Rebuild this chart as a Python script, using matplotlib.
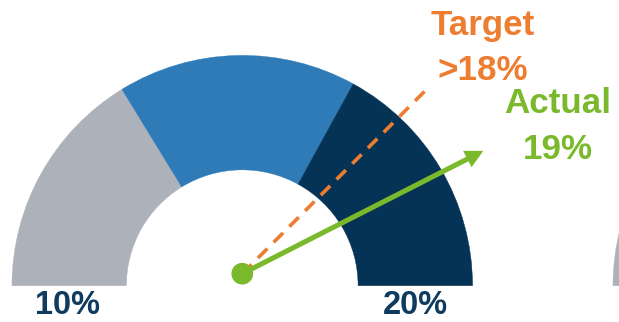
import numpy as np
import matplotlib
matplotlib.use("Agg")
import matplotlib.pyplot as plt
from matplotlib.patches import Wedge, Circle, FancyArrow

plt.rcParams['font.family'] = ['Liberation Sans', 'DejaVu Sans']
plt.rcParams['lines.scale_dashes'] = False

# ---- data ----
scale_min, scale_max = 10, 20
band_edges = [10, 13.25, 16.6, 20]          # gauge band boundaries (%)
band_colors = ['#ADB1B9', '#2E7BB8', '#043355']
target_value = 17.5                         # where the dashed target needle points
actual_value = 18.5                         # where the actual arrow points
target_label = ['Target', '>18%']
actual_label = ['Actual', '19%']
end_labels = ['10%', '20%']

ORANGE = '#ED7D31'
GREEN = '#79B92B'
NAVY_TXT = '#0F3B5E'

def val2ang(v):
    return 180.0 - (v - scale_min) / (scale_max - scale_min) * 180.0

fig = plt.figure(figsize=(6.19, 3.22), dpi=100)
ax = fig.add_axes([0, 0, 1, 1])
ax.set_xlim(-1.052, 1.636)
ax.set_ylim(-0.1576, 1.2405)
ax.set_aspect('equal')
ax.axis('off')

R, W = 1.0, 0.497

def draw_gauge(cx):
    for lo, hi, c in zip(band_edges[:-1], band_edges[1:], band_colors):
        ax.add_patch(Wedge((cx, 0), R, val2ang(hi), val2ang(lo), width=W,
                           facecolor=c, edgecolor=c, linewidth=0.3))

draw_gauge(0.0)
draw_gauge(2.61)   # neighbouring gauge, mostly out of frame

# needles
origin = (0.0, 0.052)
t_ang = np.radians(val2ang(target_value))
L_t = 1.158
ax.plot([origin[0], origin[0] + L_t * np.cos(t_ang)],
        [origin[1], origin[1] + L_t * np.sin(t_ang)],
        color=ORANGE, lw=2.6, dashes=(9.5, 6.5), solid_capstyle='butt',
        dash_capstyle='butt', zorder=3)

a_ang = np.radians(val2ang(actual_value))
L_a = 1.175
ax.add_patch(FancyArrow(origin[0], origin[1], L_a * np.cos(a_ang), L_a * np.sin(a_ang),
                        width=0.022, head_width=0.08, head_length=0.078,
                        length_includes_head=True, color=GREEN, lw=0, zorder=4))
ax.add_patch(Circle(origin, 0.044, color=GREEN, zorder=5))

fs = 25.2
ax.text(1.045, 1.0886, target_label[0], color=ORANGE, fontsize=fs, fontweight='bold',
        ha='center', va='baseline')
ax.text(1.045, 0.893, target_label[1], color=ORANGE, fontsize=fs, fontweight='bold',
        ha='center', va='baseline')
ax.text(1.369, 0.75, actual_label[0], color=GREEN, fontsize=fs, fontweight='bold',
        ha='center', va='baseline')
ax.text(1.369, 0.55, actual_label[1], color=GREEN, fontsize=fs, fontweight='bold',
        ha='center', va='baseline')

ax.text(-0.758, -0.121, end_labels[0], color=NAVY_TXT, fontsize=23.5, fontweight='bold',
        ha='center', va='baseline')
ax.text(0.75, -0.121, end_labels[1], color=NAVY_TXT, fontsize=23.5, fontweight='bold',
        ha='center', va='baseline')

fig.savefig('out.png', dpi=100, facecolor='white')
